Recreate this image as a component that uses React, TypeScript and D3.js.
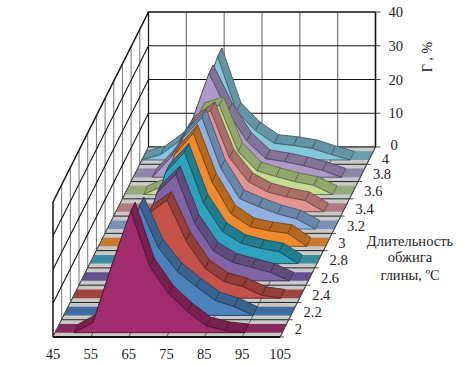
import React from "react";
import * as d3 from "d3";

// temperature steps, one value per step, % share per firing time
const temps = [45, 50, 55, 60, 65, 70, 75, 80, 85, 90, 95, 100];
const durations = ["2", "2.2", "2.4", "2.6", "2.8", "3", "3.2", "3.4", "3.6", "3.8", "4"];

const s20 = [0, 0, 3, 20, 36, 19.6, 11.5, 6.2, 2, 0.6, 0];
const s22 = [0, 0, 0, 12, 32.5, 20, 13, 8.5, 4.4, 2.6, 0];
const s24 = [0, 0, 0, 8, 25, 29, 17, 8.8, 4.9, 3.4, 0.8, 0];
const s26 = [0, 0, 0, 8, 26, 31.5, 17, 8.8, 5.5, 4, 2.5, 0];
const s28 = [0, 0, 0, 8, 27, 33, 18, 9.5, 6, 4.5, 3.5, 0];
const s30 = [0, 0, 0, 8, 27, 33.5, 19, 9.6, 5.8, 4.6, 3.8, 0];
const s32 = [0, 0, 0, 8, 27, 33, 18, 9, 6.6, 4.5, 3, 0];
const s34 = [0, 0, 0, 8, 26, 30, 16, 8.9, 5.9, 4.4, 3.3, 0];
const s36 = [0, 0, 2.4, 10.7, 24.6, 26.4, 12.7, 7, 5.3, 3.8, 2.7, 0];
const s38 = [0, 0, 6, 15, 30.7, 19.4, 10.7, 5.5, 4.6, 3.4, 2, 0];
const s40 = [0, 1.6, 5.7, 14.4, 30.6, 14.4, 8.7, 4.9, 4.3, 3.4, 1.6, 0];
const seriesValues = [s20, s22, s24, s26, s28, s30, s32, s34, s36, s38, s40];

const faceColours = ["#a02c6c", "#4c82bc", "#c4524a", "#8064a6", "#2fa3bd", "#f08a2c", "#8fb2e2", "#e2948e", "#c2de90", "#ac9aca", "#84c6da"];
const stripColours = ["#862a5c", "#3f6c9e", "#a0463f", "#62508c", "#3a8ca0", "#c87a30", "#7a92ba", "#b07c84", "#94aa78", "#8e86aa", "#6c9caa"];

const valueTicks = [0, 10, 20, 30, 40];
const tempTicks = [45, 55, 65, 75, 85, 95, 105];

const xScale = d3.scaleLinear().domain([45, 105]).range([53, 280]);
const depthX = d3.scaleLinear().domain([0, 11]).range([0, 95.5]);
const depthY = d3.scaleLinear().domain([0, 11]).range([0, 190]);
const valueScale = d3.scaleLinear().domain([0, 40]).range([0, 135]);
const baseY = 337;

function project(t: number, depth: number, value: number): [number, number] {
    return [xScale(t) + depthX(depth), baseY - depthY(depth) - valueScale(value)];
}

const shape = d3.line<[number, number]>().x(d => d[0]).y(d => d[1]);
const poly = (pts: [number, number][]) => shape(pts) + "Z";

function Ribbon({ index }: { index: number }) {
    const values = seriesValues[index];
    const front = index + 0.25;
    const back = index + 0.75;
    const colour = faceColours[index];
    const edge = d3.color(colour)!.darker(2).formatHex();
    const strip = d3.color(colour)!.darker(0.8).formatHex();

    // leading zeros lie flat on the floor and are not drawn
    let first = values.findIndex(v => v > 0) - 1;
    if (first < 0) first = 0;
    const pts = values.map((v, i) => ({ t: temps[i], v })).slice(first);
    const last = pts[pts.length - 1];

    const facePts: [number, number][] = pts.map(p => project(p.t, front, p.v));
    facePts.push(project(last.t, front, 0), project(pts[0].t, front, 0));

    return <g>
        {d3.pairs(pts).map(([a, b], i) => (
            <path key={i} stroke={edge} strokeWidth={0.9} fill={strip} strokeLinejoin="round"
                d={poly([project(a.t, front, a.v), project(a.t, back, a.v), project(b.t, back, b.v), project(b.t, front, b.v)])} />
        ))}
        <path d={poly(facePts)} fill={colour} stroke={edge} strokeWidth={0.9} strokeLinejoin="round" />
    </g>;
}

function Floor() {
    const n = durations.length;
    return <g>
        <path d={poly([project(45, 0, 0), project(45, n, 0), project(105, n, 0), project(105, 0, 0)])} fill="#c9c9c9" />
        {durations.map((_, i) => (
            <path key={i} fill={stripColours[i]}
                d={poly([project(45, i + 0.25, 0), project(45, i + 0.75, 0), project(105, i + 0.75, 0), project(105, i + 0.25, 0)])} />
        ))}
        {d3.range(n + 1).map(i => (
            <path key={i} stroke="#222" strokeWidth={1} d={shape([project(45, i, 0), project(105, i, 0)])!} />
        ))}
        {tempTicks.map(t => (
            <path key={t} stroke="#444" strokeWidth={0.8} d={shape([project(t, 0, 0), project(t, n, 0)])!} />
        ))}
    </g>;
}

function Walls() {
    const n = durations.length;
    return <g fill="none">
        {tempTicks.map(t => (
            <path key={t} stroke={t === 45 || t === 105 ? "#111" : "#777"} strokeWidth={t === 105 ? 1.6 : 1.2}
                d={shape([project(t, n, 0), project(t, n, 40)])!} />
        ))}
        {d3.range(0, n).map(i => (
            <path key={i} stroke={i === 0 ? "#111" : "#777"} strokeWidth={i === 0 ? 1.5 : 1}
                d={shape([project(45, i, 0), project(45, i, 40)])!} />
        ))}
        {valueTicks.map(v => (
            <path key={v} stroke="#111" strokeWidth={v === 40 ? 1.5 : 1.1}
                d={shape([project(45, 0, v), project(45, n, v), project(105, n, v)])!} />
        ))}
    </g>;
}

export default function App() {
    const n = durations.length;
    const order = d3.range(n).reverse();
    const font = "'Liberation Serif', serif";
    return <svg width={473} height={366} style={{ position: "absolute", left: 0, top: 0 }} fontFamily={font} fontSize={14.5} fill="#222">
        <rect width={473} height={366} fill="#fff" />
        <Walls />
        <Floor />
        {order.map(i => <Ribbon key={i} index={i} />)}
        <path stroke="#111" strokeWidth={1.8} fill="none" d={shape([project(45, 0, 0), project(105, 0, 0)])!} />
        <path stroke="#444" strokeWidth={1} fill="none" d={shape([project(105, 0, 0), project(105, n, 0)])!} />

        {valueTicks.map(v => {
            const [x, y] = project(105, n, v);
            return <g key={v}>
                <path stroke="#444" d={`M${x},${y}h5`} />
                <text x={v === 0 ? x + 15 : x + 13} y={v === 0 ? y - 2 : y} dy="0.35em">{v}</text>
            </g>;
        })}
        {tempTicks.map(t => (
            <text key={t} x={xScale(t)} y={baseY + 22} textAnchor="middle">{t}</text>
        ))}
        {durations.map((d, i) => {
            const [x, y] = project(105, i + 0.5, 0);
            return <g key={d}>
                <path stroke="#444" d={`M${project(105, i, 0).join(",")}h4`} />
                <text x={x + 10.5} y={y + (i === n - 1 ? 3 : 1)} dy="0.35em">{d}</text>
            </g>;
        })}
        <text transform="translate(432,57) rotate(-90)" textAnchor="middle" fontSize={14}>Г , %</text>
        <g textAnchor="middle" fontSize={14.5}>
            <text x={410} y={246}>Длительность</text>
            <text x={410} y={262}>обжига</text>
            <text x={410} y={280}>глины, ºС</text>
        </g>
    </svg>;
}
